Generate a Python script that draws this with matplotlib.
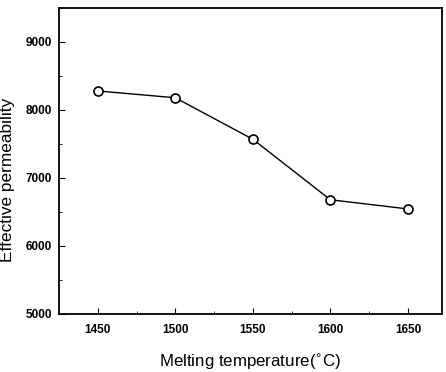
import matplotlib
matplotlib.use("Agg")
import matplotlib.pyplot as plt
from matplotlib.ticker import MultipleLocator

plt.rcParams['font.family'] = ['Liberation Sans', 'DejaVu Sans']

temps = [1450, 1500, 1550, 1600, 1650]
perm = [8280, 8180, 7570, 6680, 6545]

fig = plt.figure(figsize=(4.46, 3.72), dpi=100)
ax = fig.add_axes([59 / 446, 1 - 314 / 372, 383 / 446, 306 / 372])

ax.plot(temps, perm, color='black', linewidth=1.0, marker='o', markersize=6.5,
        markerfacecolor='white', markeredgecolor='black', markeredgewidth=1.2)

ax.set_xlim(1425, 1672)
ax.set_ylim(5000, 9500)
ax.xaxis.set_major_locator(MultipleLocator(50))
ax.xaxis.set_minor_locator(MultipleLocator(25))
ax.yaxis.set_major_locator(MultipleLocator(1000))
ax.yaxis.set_minor_locator(MultipleLocator(500))
ax.tick_params(which='both', direction='in', labelsize=8.5)
ax.tick_params(axis='x', which='major', pad=7)
ax.tick_params(axis='y', which='major', pad=5)
ax.tick_params(which='major', length=4)
ax.tick_params(which='minor', length=2)
for lab in ax.get_xticklabels() + ax.get_yticklabels():
    lab.set_fontweight('bold')
for s in ax.spines.values():
    s.set_linewidth(1.3)

ax.set_xlabel('Melting temperature($^{\\circ}$C)', fontsize=12.2, labelpad=12)
ax.set_ylabel('Effective permeability', fontsize=12.4)
ax.yaxis.set_label_coords(-0.115, 0.438)

fig.savefig('out.png', dpi=100)
